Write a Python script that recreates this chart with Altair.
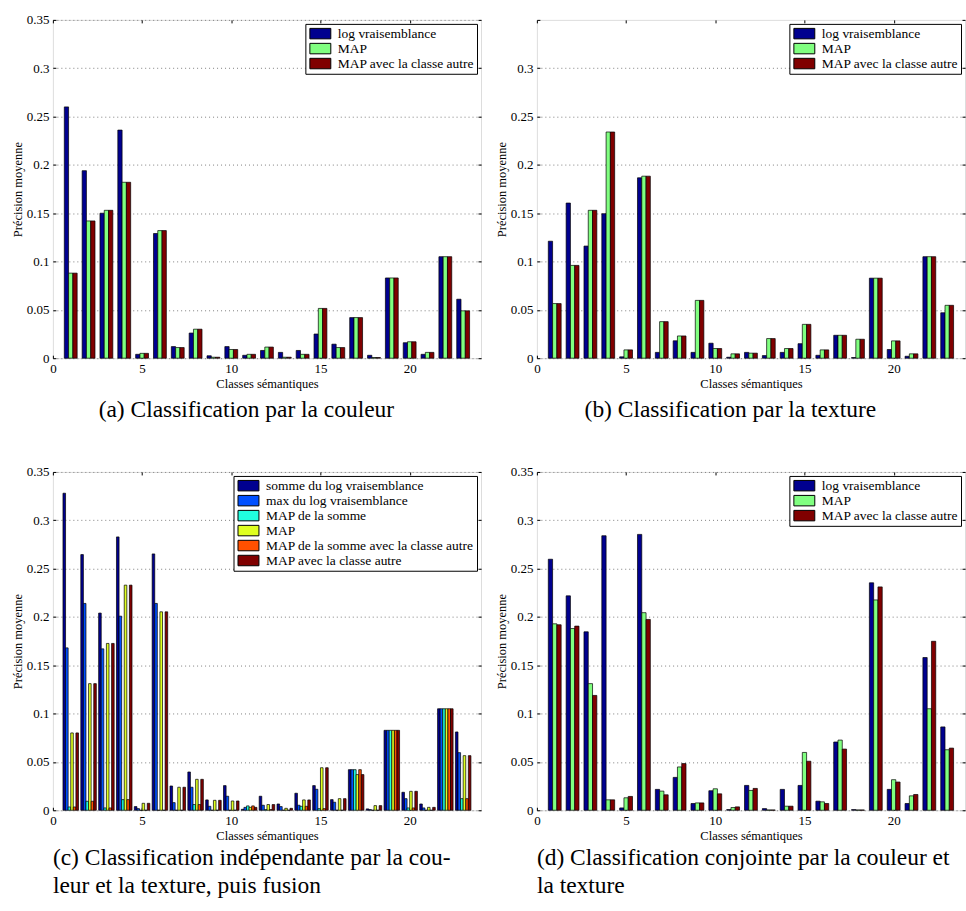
import altair as alt
import pandas as pd

FONT = "Liberation Serif"

classes = list(range(1, 24))

series3 = ["log vraisemblance", "MAP", "MAP avec la classe autre"]
colors3 = ["#00008F", "#80FF80", "#800000"]

series6 = ["somme du log vraisemblance", "max du log vraisemblance", "MAP de la somme",
           "MAP", "MAP de la somme avec la classe autre", "MAP avec la classe autre"]
colors6 = ["#00008F", "#0050FF", "#20FFDF", "#DFFF20", "#FF5000", "#800000"]

# (a) couleur
a_logv = [0.260, 0.194, 0.150, 0.236, 0.004, 0.129, 0.012, 0.026, 0.0025, 0.012, 0.003, 0.008,
          0.006, 0.008, 0.025, 0.0145, 0.042, 0.003, 0.083, 0.016, 0.004, 0.105, 0.061]
a_map = [0.088, 0.142, 0.153, 0.182, 0.005, 0.132, 0.011, 0.030, 0.001, 0.009, 0.004, 0.0115,
         0.001, 0.004, 0.0515, 0.011, 0.042, 0.0007, 0.083, 0.017, 0.006, 0.105, 0.049]
a_autre = [0.088, 0.142, 0.153, 0.182, 0.005, 0.132, 0.011, 0.030, 0.001, 0.009, 0.004, 0.0115,
           0.001, 0.004, 0.0515, 0.011, 0.042, 0.0007, 0.083, 0.017, 0.006, 0.105, 0.049]

# (b) texture
b_logv = [0.121, 0.1605, 0.116, 0.1495, 0.0014, 0.1866, 0.006, 0.018, 0.006, 0.0155, 0.001, 0.006,
          0.0027, 0.006, 0.015, 0.003, 0.0237, 0.0007, 0.0828, 0.009, 0.002, 0.105, 0.047]
b_map = [0.0565, 0.096, 0.153, 0.234, 0.0086, 0.1883, 0.0378, 0.023, 0.0598, 0.010, 0.0045, 0.0052,
         0.0203, 0.010, 0.035, 0.0086, 0.0237, 0.0196, 0.0828, 0.0179, 0.0045, 0.105, 0.0547]
b_autre = [0.0565, 0.096, 0.153, 0.234, 0.0086, 0.1883, 0.0378, 0.023, 0.0598, 0.010, 0.0045, 0.0052,
           0.0203, 0.010, 0.035, 0.0086, 0.0237, 0.0196, 0.0828, 0.0179, 0.0045, 0.105, 0.0547]

# (c) independante puis fusion
c_somme = [0.328, 0.2645, 0.204, 0.2828, 0.0038, 0.2652, 0.0251, 0.0396, 0.0107, 0.0255, 0.001, 0.0145,
           0.0065, 0.0176, 0.0255, 0.011, 0.042, 0.0014, 0.0827, 0.0186, 0.0065, 0.105, 0.081]
c_max = [0.168, 0.214, 0.167, 0.2008, 0.0017, 0.214, 0.0079, 0.0238, 0.0041, 0.0145, 0.003, 0.0052,
         0.0038, 0.0052, 0.0217, 0.0083, 0.042, 0.0007, 0.0827, 0.012, 0.0024, 0.105, 0.0596]
c_mapsomme = [0.0034, 0.0093, 0.0024, 0.011, 0.0, 0.0, 0.0, 0.0059, 0.0, 0.0, 0.0045, 0.0007,
              0.0, 0.0041, 0.0017, 0.0, 0.042, 0.0, 0.0827, 0.0024, 0.0, 0.105, 0.012]
c_map = [0.080, 0.131, 0.1726, 0.2329, 0.0072, 0.2053, 0.0238, 0.032, 0.0103, 0.0096, 0.003, 0.0059,
         0.002, 0.0107, 0.044, 0.012, 0.0369, 0.0048, 0.0827, 0.0196, 0.003, 0.105, 0.0565]
c_mapsomme_autre = [0.0034, 0.0093, 0.0024, 0.011, 0.0, 0.0, 0.0, 0.0059, 0.0, 0.0, 0.0045, 0.0007,
                    0.0, 0.0041, 0.0017, 0.0, 0.042, 0.0, 0.0827, 0.0024, 0.0, 0.105, 0.012]
c_map_autre = [0.080, 0.131, 0.1726, 0.2329, 0.0072, 0.2053, 0.0238, 0.032, 0.0103, 0.0096, 0.003, 0.0059,
               0.002, 0.0107, 0.044, 0.012, 0.0369, 0.0048, 0.0827, 0.0196, 0.003, 0.105, 0.0565]

# (d) conjointe
d_logv = [0.2597, 0.2218, 0.1846, 0.284, 0.0024, 0.2854, 0.0216, 0.034, 0.007, 0.0202, 0.0007, 0.0257,
          0.0017, 0.0216, 0.0257, 0.0094, 0.0706, 0.0007, 0.2353, 0.0216, 0.007, 0.158, 0.0862]
d_map = [0.1929, 0.188, 0.131, 0.0108, 0.0129, 0.2044, 0.0198, 0.0448, 0.0076, 0.0222, 0.0028, 0.0205,
         0.0003, 0.0042, 0.0598, 0.0087, 0.0726, 0.0003, 0.2176, 0.0316, 0.0149, 0.105, 0.0626]
d_autre = [0.1919, 0.1905, 0.1188, 0.0108, 0.0143, 0.1974, 0.016, 0.0483, 0.0076, 0.017, 0.0035, 0.0226,
           0.0003, 0.0042, 0.0507, 0.007, 0.0633, 0.0003, 0.2311, 0.0292, 0.0163, 0.1748, 0.0643]

x_ticks = [0, 5, 10, 15, 20]
y_ticks_full = [0, 0.05, 0.1, 0.15, 0.2, 0.25, 0.3, 0.35]
y_ticks_b = [0, 0.05, 0.1, 0.15, 0.2, 0.25, 0.3]


def long_df(names, lists):
    rows = []
    for i, (name, vals) in enumerate(zip(names, lists)):
        for c, v in zip(classes, vals):
            rows.append({"cls": c, "serie": name, "idx": i, "value": v})
    return pd.DataFrame(rows)


XS = alt.Scale(domain=[0, 24], nice=False, zero=False)
YS = alt.Scale(domain=[0, 0.35], nice=False)


def panel(df, names, colors, bw, ylabels, caption, anchor, frame, cap_offset):
    n = len(names)
    base = alt.Chart(df).transform_calculate(
        x0=f"datum.cls - {n * bw / 2} + datum.idx * {bw}",
        x1=f"datum.cls - {n * bw / 2} + (datum.idx + 1) * {bw}",
    )
    bars = base.mark_rect(stroke="black", strokeWidth=0.7, opacity=1).encode(
        x=alt.X("x0:Q", scale=XS, axis=alt.Axis(
            values=x_ticks, format="~g", title="Classes sémantiques", ticks=False, domain=False,
            grid=False, labelFont=FONT, labelFontSize=13, labelPadding=4, labelFlush=False,
            labelColor="black", titleFont=FONT, titleFontSize=12.5, titleFontWeight="normal",
            titleColor="black", titlePadding=2)),
        x2="x1:Q",
        y=alt.Y("value:Q", scale=YS, axis=alt.Axis(
            values=ylabels, format="~g", title="Précision moyenne", ticks=False, domain=False,
            grid=True, gridDash=[1, 3], gridColor="#808080", gridWidth=1, labelFont=FONT,
            labelFontSize=13, labelPadding=4, labelFlush=False, labelColor="black",
            titleFont=FONT, titleFontSize=12.5, titleFontWeight="normal", titleColor="black",
            titlePadding=2)),
        y2=alt.datum(0),
        color=alt.Color("serie:N", scale=alt.Scale(domain=names, range=colors), legend=alt.Legend(
            title=None, orient="top-right", offset=4, strokeColor="black", fillColor="white",
            padding=3, labelFont=FONT, labelFontSize=13.5, labelColor="black", labelLimit=0,
            symbolType="M-1,-1H3V1H-1Z", symbolSize=110, symbolStrokeColor="black",
            symbolStrokeWidth=1, symbolOpacity=1, rowPadding=0, labelOffset=16, cornerRadius=0)),
    )
    tick_style = dict(labels=False, domain=False, grid=False, title=None, ticks=True,
                      tickSize=3, tickColor="black", tickWidth=1, offset=-3)
    t1 = base.mark_point(opacity=0).encode(
        x=alt.X("cls:Q", scale=XS, axis=alt.Axis(orient="top", values=x_ticks, **tick_style)),
        y=alt.Y("value:Q", scale=YS, axis=alt.Axis(orient="right", values=y_ticks_full, **tick_style)),
    )
    t2 = base.mark_point(opacity=0).encode(
        x=alt.X("cls:Q", scale=XS, axis=alt.Axis(orient="bottom", values=x_ticks, **tick_style)),
        y=alt.Y("value:Q", scale=YS, axis=alt.Axis(orient="left", values=y_ticks_full, **tick_style)),
    )
    return alt.layer(bars, t1, t2).resolve_axis(x="independent", y="independent").properties(
        width=429, height=339,
        title=alt.TitleParams(text=caption, orient="bottom", anchor=anchor, frame=frame,
                              font=FONT, fontSize=23.5, fontWeight="normal", color="black",
                              offset=cap_offset, lineHeight=28),
    )


pa = panel(long_df(series3, [a_logv, a_map, a_autre]), series3, colors3, 0.24, y_ticks_full,
           "(a) Classification par la couleur", "middle", "bounds", 8)
pb = panel(long_df(series3, [b_logv, b_map, b_autre]), series3, colors3, 0.24, y_ticks_b,
           "(b) Classification par la texture", "middle", "bounds", 8)
pc = panel(long_df(series6, [c_somme, c_max, c_mapsomme, c_map, c_mapsomme_autre, c_map_autre]),
           series6, colors6, 0.145, y_ticks_full,
           ["(c) Classification indépendante par la cou-", "leur et la texture, puis fusion"],
           "start", "group", 4)
pd_ = panel(long_df(series3, [d_logv, d_map, d_autre]), series3, colors3, 0.24, y_ticks_full,
            ["(d) Classification conjointe par la couleur et", "la texture"], "start", "group", 4)

chart = alt.concat(pa, pb, pc, pd_, columns=2, spacing={"row": 114, "column": 56},
                   bounds="flush").resolve_scale(color="independent").properties(
    padding={"left": 10, "top": 12, "right": 0, "bottom": 0},
    background="white",
).configure_view(stroke="black", strokeWidth=1).configure(font=FONT)

chart.save("out.html", embed_options={"renderer": "svg", "actions": False})
